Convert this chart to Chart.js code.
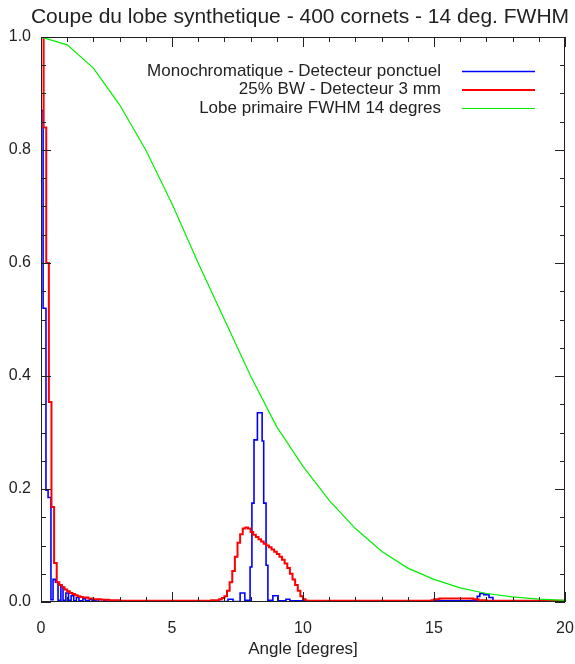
<!DOCTYPE html>
<html>
<head>
<meta charset="utf-8">
<script src="https://cdn.jsdelivr.net/npm/chart.js@4"></script>
<style>
  body { margin: 0; background: #fff; }
  #wrap { width: 575px; height: 664px; }
</style>
</head>
<body>
<div id="wrap"><canvas id="lobe-chart" width="575" height="664"></canvas></div>
<script>
// Coupe du lobe
var titleText = 'Coupe du lobe synthetique - 400 cornets - 14 deg. FWHM';
var seriesNames = ['Monochromatique - Detecteur ponctuel', '25% BW - Detecteur 3 mm', 'Lobe primaire FWHM 14 degres'];

var xMajorTicks = [0, 5, 10, 15, 20];
var yMajorTicks = [0.0, 0.2, 0.4, 0.6, 0.8, 1.0];

// monochromatique (histogramme: angle de debut de pas, valeur)
var blueAngles = [0, 0.08, 0.19, 0.27, 0.38, 0.46, 0.55, 0.65, 0.76, 0.84, 0.95, 1.05, 1.15, 1.25, 1.35, 1.45,
    1.6, 1.7, 1.85, 1.95, 2.1, 2.2, 2.4, 2.5, 7.14, 7.33, 7.6, 7.78, 7.98, 8.05, 8.13, 8.26, 8.44, 8.50,
    8.59, 8.66, 8.85, 9.05, 9.35, 9.5, 16.65, 16.75, 16.9, 17.1, 17.25, 20];
var blueValues = [0.87, 0.52, 0.198, 0.185, 0.004, 0.04, 0.035, 0.003, 0.027, 0.003, 0.016, 0.003, 0.011, 0.002, 0.008, 0.002,
    0.006, 0.002, 0.005, 0.002, 0.004, 0.001, 0.003, 0.001, 0.005, 0.001, 0.016, 0.003, 0.062, 0.175, 0.287, 0.335, 0.285, 0.175,
    0.065, 0.003, 0.011, 0.002, 0.005, 0.002, 0.01, 0.015, 0.013, 0.008, 0.002, 0.002];

// 25% BW
var redAngles = [0, 0.1, 0.2, 0.3, 0.4, 0.5, 0.6, 0.7, 0.8, 0.9, 1.0, 1.1, 1.2, 1.3, 1.4, 1.5, 1.6, 1.8, 2.0, 2.3, 2.6, 3.0,
    6.5, 6.8, 6.9, 7.0, 7.1, 7.2, 7.3, 7.4, 7.5, 7.6, 7.7, 7.8, 7.9, 8.0, 8.1, 8.2, 8.3, 8.4, 8.5, 8.6, 8.7, 8.8, 8.9,
    9.0, 9.1, 9.2, 9.3, 9.4, 9.5, 9.6, 9.7, 9.8, 9.9, 10.0, 10.1, 14.9, 15.0, 15.2, 16.5, 16.7, 17.0, 20];
var redValues = [1.05, 0.84, 0.60, 0.354, 0.168, 0.069, 0.035, 0.030, 0.026, 0.022, 0.019, 0.016, 0.014, 0.012, 0.010, 0.009, 0.008, 0.006, 0.005, 0.004, 0.003, 0.002,
    0.003, 0.005, 0.007, 0.010, 0.020, 0.035, 0.055, 0.080, 0.105, 0.120, 0.130, 0.132, 0.130, 0.124, 0.119, 0.115, 0.111, 0.107, 0.103, 0.100, 0.097, 0.093, 0.089,
    0.085, 0.080, 0.075, 0.068, 0.060, 0.050, 0.040, 0.030, 0.020, 0.010, 0.005, 0.002, 0.003, 0.005, 0.006, 0.005, 0.003, 0.002, 0.002];

// lobe primaire
var greenAngles = [0, 1, 2, 3, 4, 5, 6, 7, 8, 9, 10, 11, 12, 13, 14, 15, 16, 17, 18, 19, 20];
var greenValues = [1.0, 0.986, 0.945, 0.88, 0.80, 0.705, 0.60, 0.50, 0.40, 0.31, 0.24, 0.18, 0.13, 0.09, 0.06, 0.04, 0.025, 0.015, 0.009, 0.005, 0.003];

var fontFamily = '"Liberation Sans", Arial, Helvetica, sans-serif';
var textColor = '#222';

function toPoints(xs, ys) {
    return xs.map(function (x, i) { return { x: x, y: ys[i] }; });
}

// cadre, graduations interieures, titre et legende facon IDL
var idlFrame = {
    id: 'idlFrame',
    afterDraw: function (chart) {
        var ctx = chart.ctx;
        var a = chart.chartArea;
        var xs = chart.scales.x, ys = chart.scales.y;
        ctx.save();
        ctx.strokeStyle = '#222';
        ctx.lineWidth = 1;
        ctx.strokeRect(a.left + 0.5, a.top + 0.5, a.right - a.left - 1, a.bottom - a.top - 1);

        ctx.beginPath();
        for (var i = 0; i <= 20; i++) {
            var px = Math.round(xs.getPixelForValue(i)) + 0.5;
            var len = (i % 5 === 0) ? 10 : 5;
            ctx.moveTo(px, a.bottom); ctx.lineTo(px, a.bottom - len);
            ctx.moveTo(px, a.top); ctx.lineTo(px, a.top + len);
        }
        for (var j = 0; j <= 20; j++) {
            var py = Math.round(ys.getPixelForValue(j * 0.05)) + 0.5;
            var ylen = (j % 4 === 0) ? 10 : 5;
            ctx.moveTo(a.left, py); ctx.lineTo(a.left + ylen, py);
            ctx.moveTo(a.right, py); ctx.lineTo(a.right - ylen, py);
        }
        ctx.stroke();

        // titre
        ctx.fillStyle = textColor;
        ctx.font = '21px ' + fontFamily;
        ctx.textAlign = 'center';
        ctx.textBaseline = 'middle';
        ctx.fillText(titleText, 300, 17);

        // legende
        ctx.font = '17px ' + fontFamily;
        ctx.textAlign = 'right';
        chart.data.datasets.forEach(function (ds, k) {
            var ly = 71 + k * 18.5;
            ctx.fillStyle = textColor;
            ctx.fillText(ds.label, 441, ly);
            ctx.strokeStyle = ds.borderColor;
            ctx.lineWidth = ds.borderWidth;
            ctx.beginPath();
            ctx.moveTo(462, ly + 0.5);
            ctx.lineTo(535, ly + 0.5);
            ctx.stroke();
        });
        ctx.restore();
    }
};

var ctx = document.getElementById('lobe-chart').getContext('2d');
var chart = new Chart(ctx, {
    type: 'line',
    data: {
        datasets: [{
            label: seriesNames[0],
            data: toPoints(blueAngles, blueValues),
            borderColor: '#0000ff',
            borderWidth: 1.6,
            stepped: 'before',
            pointRadius: 0,
            fill: false,
            order: 3
        }, {
            label: seriesNames[1],
            data: toPoints(redAngles, redValues),
            borderColor: '#ff0000',
            borderWidth: 2,
            stepped: 'before',
            pointRadius: 0,
            fill: false,
            order: 2
        }, {
            label: seriesNames[2],
            data: toPoints(greenAngles, greenValues),
            borderColor: '#00f000',
            borderWidth: 1.2,
            tension: 0,
            pointRadius: 0,
            fill: false,
            order: 1
        }]
    },
    options: {
        responsive: false,
        animation: false,
        layout: { autoPadding: false, padding: { left: 0, right: 10, top: 37, bottom: 0 } },
        plugins: {
            legend: { display: false },
            tooltip: { enabled: false }
        },
        scales: {
            x: {
                type: 'linear',
                min: 0,
                max: 20,
                afterBuildTicks: function (scale) {
                    scale.ticks = xMajorTicks.map(function (v) { return { value: v }; });
                },
                afterFit: function (scale) {
                    scale.height = 62;
                    scale.paddingLeft = 0;
                    scale.paddingRight = 0;
                },
                grid: { display: false, drawTicks: false },
                border: { display: false },
                ticks: {
                    color: textColor,
                    padding: 17,
                    maxRotation: 0,
                    font: { family: fontFamily, size: 16 },
                    callback: function (v) { return String(v); }
                },
                title: {
                    display: true,
                    text: 'Angle [degres]',
                    color: textColor,
                    padding: { top: 4, bottom: 4 },
                    font: { family: fontFamily, size: 17 }
                }
            },
            y: {
                type: 'linear',
                min: 0,
                max: 1.0,
                afterBuildTicks: function (scale) {
                    scale.ticks = yMajorTicks.map(function (v) { return { value: v }; });
                },
                afterFit: function (scale) {
                    scale.width = 41;
                    scale.paddingTop = 0;
                    scale.paddingBottom = 0;
                },
                grid: { display: false, drawTicks: false },
                border: { display: false },
                ticks: {
                    color: textColor,
                    padding: 10,
                    font: { family: fontFamily, size: 16 },
                    callback: function (v) { return Number(v).toFixed(1); }
                }
            }
        }
    },
    plugins: [idlFrame]
});
</script>
</body>
</html>
